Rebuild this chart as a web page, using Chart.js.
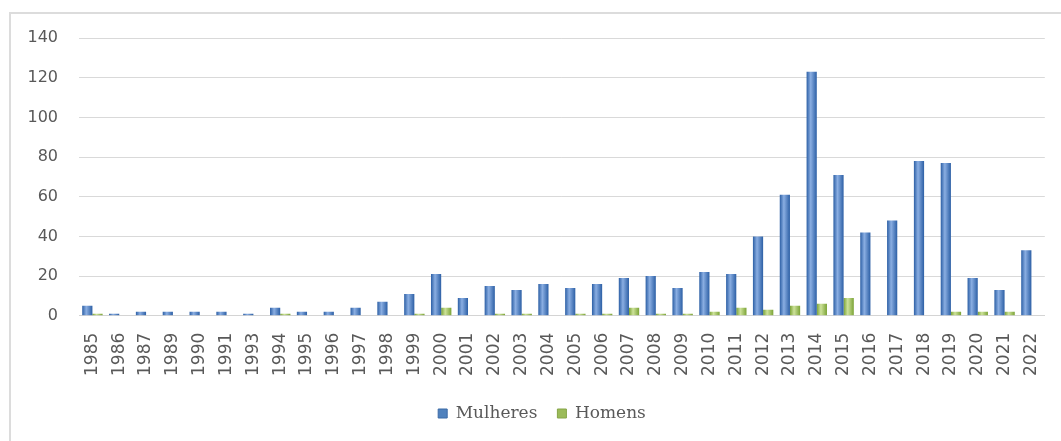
<!DOCTYPE html>
<html>
<head>
<meta charset="utf-8">
<script src="https://cdn.jsdelivr.net/npm/chart.js@4.4.0/dist/chart.umd.min.js"></script>
<style>
  body { margin: 0; background: #fff; }
  #wrap { position: relative; width: 1061px; height: 441px; overflow: hidden; }
  #frame { position: absolute; left: 9px; top: 12px; width: 1070px; height: 450px; border: 2px solid #dcdcdc; }
  #grafico { position: absolute; left: 0; top: 0; }
</style>
</head>
<body>
<div id="wrap">
  <div id="frame"></div>
  <canvas id="grafico" width="1061" height="441"></canvas>
</div>
<script>
const anos = ['1985','1986','1987','1989','1990','1991','1993','1994','1995','1996','1997','1998','1999',
  '2000','2001','2002','2003','2004','2005','2006','2007','2008','2009','2010','2011','2012','2013',
  '2014','2015','2016','2017','2018','2019','2020','2021','2022'];
const mulheres = [5,1,2,2,2,2,1,4,2,2,4,7,11,21,9,15,13,16,14,16,19,20,14,22,21,40,61,123,71,42,48,78,77,19,13,33];
const homens   = [1,0,0,0,0,0,0,1,0,0,0,0,1,4,0,1,1,0,1,1,4,1,1,2,4,3,5,6,9,0,0,0,2,2,2,0];
const yTicks = [0,20,40,60,80,100,120,140];

const catPct = 0.76;

// gradiente horizontal para dar o efeito de cilindro em cada barra
function cilindro(escuro, claro) {
  return (ctx) => {
    const chart = ctx.chart;
    const xs = chart.scales.x;
    if (!xs || ctx.dataIndex === undefined) return escuro;
    const passo = xs.width / anos.length;
    const larg = passo * catPct / 2;
    const centro = xs.getPixelForValue(ctx.dataIndex) + (ctx.datasetIndex === 0 ? -larg / 2 : larg / 2);
    const g = chart.ctx.createLinearGradient(centro - larg / 2, 0, centro + larg / 2, 0);
    g.addColorStop(0, escuro);
    g.addColorStop(0.4, claro);
    g.addColorStop(1, escuro);
    return g;
  };
}

const data = {
  labels: anos,
  datasets: [
    {
      label: 'Mulheres',
      data: mulheres,
      backgroundColor: cilindro('#2c5fa5', '#8aaee2'),
      borderWidth: 0
    },
    {
      label: 'Homens',
      data: homens,
      backgroundColor: cilindro('#7ba336', '#cde29a'),
      borderWidth: 0
    }
  ]
};

// desloca a legenda um pouco para a direita
const legendaDesloc = {
  id: 'legendaDesloc',
  afterLayout(chart) {
    chart.legend.left += 16;
    chart.legend.right += 16;
  }
};

const config = {
  type: 'bar',
  data,
  plugins: [legendaDesloc],
  options: {
    responsive: false,
    animation: false,
    datasets: { bar: { categoryPercentage: catPct, barPercentage: 1 } },
    layout: { padding: { left: 5, right: 14, top: 38, bottom: 9 } },
    scales: {
      x: {
        grid: { display: false },
        border: { color: '#d4d4d4', width: 1 },
        ticks: {
          autoSkip: false,
          minRotation: 90,
          maxRotation: 90,
          padding: 9,
          color: '#595959',
          font: { family: 'DejaVu Sans', size: 17 }
        }
      },
      y: {
        min: 0,
        max: 140,
        afterBuildTicks: (axis) => { axis.ticks = yTicks.map(v => ({ value: v })); },
        afterFit: (axis) => { axis.width = 74; },
        grid: { color: '#d9d9d9', drawTicks: false },
        border: { display: false },
        ticks: {
          padding: 21,
          color: '#595959',
          font: { family: 'DejaVu Sans', size: 16 }
        }
      }
    },
    plugins: {
      tooltip: { enabled: false },
      legend: {
        position: 'bottom',
        labels: {
          boxWidth: 9,
          boxHeight: 9,
          padding: 20,
          color: '#595959',
          font: { family: 'DejaVu Serif', size: 17 },
          generateLabels: (chart) => chart.data.datasets.map((ds, i) => ({
            text: ds.label,
            fillStyle: i === 0 ? '#4f81bd' : '#9bbb59',
            strokeStyle: i === 0 ? '#3a6aa6' : '#86a548',
            lineWidth: 1,
            fontColor: '#595959',
            datasetIndex: i
          }))
        }
      }
    }
  }
};

let grafico = new Chart(document.getElementById('grafico'), config);
</script>
</body>
</html>
